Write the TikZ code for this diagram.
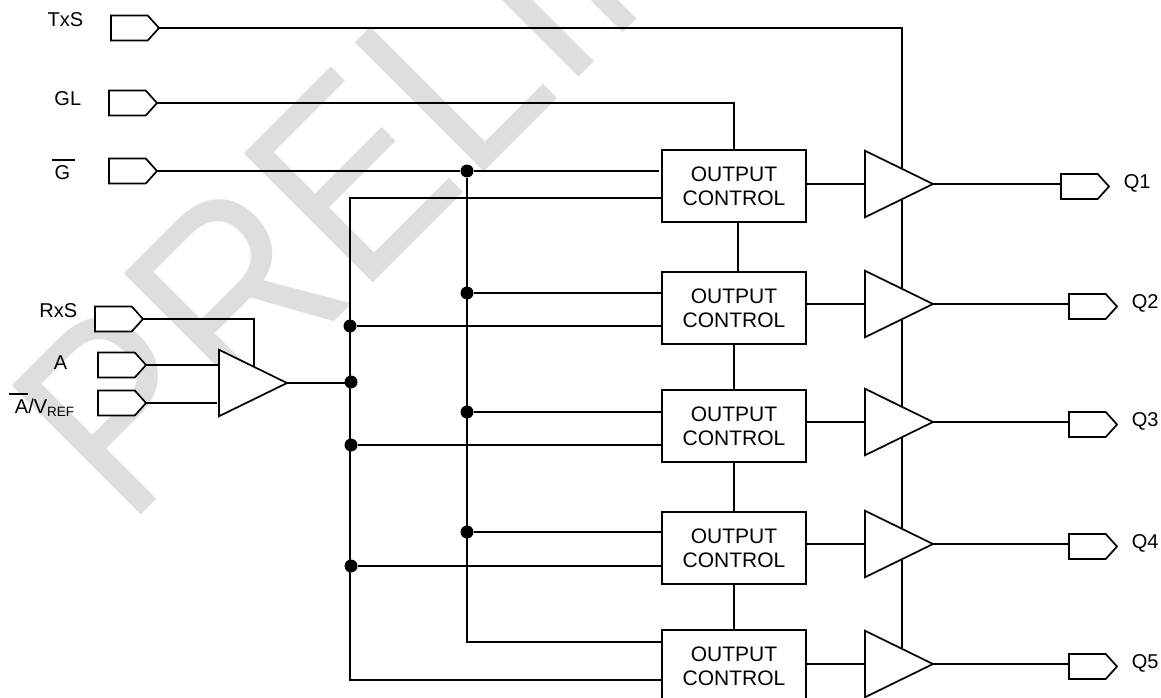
\documentclass[tikz,border=0pt]{standalone}
\usepackage{fontspec}
\setmainfont{Liberation Sans}
\usetikzlibrary{positioning, backgrounds, shapes.geometric, shapes.symbols}
\newcommand{\barred}[3]{\leavevmode\vbox{\hrule height 1.4pt \vskip 5pt \hbox{\kern#2pt #1\kern#3pt}}}
\tikzset{Box style/.style={draw=black, fill=white, align=center, minimum width=144pt, minimum height=72pt, inner sep=0pt, outer sep=0pt, font=\fontsize{21}{24}\selectfont}}
\tikzset{Amp style/.style={draw=black, fill=white, isosceles triangle, isosceles triangle stretches, minimum width=66.5pt, minimum height=68pt, inner sep=0pt, outer sep=0pt}}
\tikzset{Port style/.style={draw=black, fill=white, signal, signal to=east, signal pointer angle=96, minimum width=48pt, minimum height=25pt, inner sep=0pt, outer sep=0pt}}
\tikzset{Dot style/.style={circle, fill=black, minimum size=13pt, inner sep=0pt}}
\tikzset{Label style/.style={inner sep=0pt, font=\fontsize{20}{24}\selectfont}}
\tikzset{
	x=1pt, y=-1pt, % Pixel grid of the sheet
	node distance=50pt,
}
\begin{document}
\begin{tikzpicture}[line width=1.7pt]
	\useasboundingbox (0,0) rectangle (1161,698);

	\node[Port style, anchor=west] (port_txs) at (111,28) {};
	\node[Port style, anchor=west] (port_gl) at (109,103) {};
	\node[Port style, anchor=west] (port_g) at (109,171) {};
	\node[Port style, anchor=west] (port_rxs) at (95,319) {};
	\node[Port style, anchor=west] (port_a) at (98,365) {};
	\node[Port style, anchor=west] (port_ref) at (98,403) {};

	\node[Label style, left=27pt of port_txs, yshift=8pt] (lab_txs) {TxS};
	\node[Label style, left=27pt of port_gl, yshift=4pt] (lab_gl) {GL};
	\node[Label style, left=33pt of port_g, yshift=1.5pt] (lab_g) {\barred{G}{3}{5}};
	\node[Label style, left=17pt of port_rxs, yshift=8pt] (lab_rxs) {RxS};
	\node[Label style, left=30pt of port_a, yshift=2pt] (lab_a) {A};
	\node[Label style, left=23pt of port_ref, yshift=-2pt] (lab_ref) {\barred{A}{6}{0}/V\raisebox{-3pt}{\fontsize{13.5}{14}\selectfont REF}};

	\node[Amp style, anchor=west] (amp_in) at (219,383) {};

	\node[Box style] (ctl_one) at (734,186) {OUTPUT\\CONTROL};
	\node[Box style, below=50pt of ctl_one] (ctl_two) {OUTPUT\\CONTROL};
	\node[Box style, below=46pt of ctl_two] (ctl_three) {OUTPUT\\CONTROL};
	\node[Box style, below=50pt of ctl_three] (ctl_four) {OUTPUT\\CONTROL};
	\node[Box style, below=46pt of ctl_four] (ctl_five) {OUTPUT\\CONTROL};

	\node[Amp style, right=59pt of ctl_one, yshift=2pt] (amp_one) {};
	\node[Amp style, right=59pt of ctl_two, yshift=4pt] (amp_two) {};
	\node[Amp style, right=59pt of ctl_three, yshift=4pt] (amp_three) {};
	\node[Amp style, right=59pt of ctl_four, yshift=4pt] (amp_four) {};
	\node[Amp style, right=59pt of ctl_five, yshift=2pt] (amp_five) {};

	\node[Port style, right=128pt of amp_one, yshift=-2.5pt] (port_qa) {};
	\node[Port style, right=136pt of amp_two, yshift=-2.5pt] (port_qb) {};
	\node[Port style, right=136pt of amp_three, yshift=-2.5pt] (port_qc) {};
	\node[Port style, right=136pt of amp_four, yshift=-2.5pt] (port_qd) {};
	\node[Port style, right=136pt of amp_five, yshift=-2.5pt] (port_qe) {};

	\node[Label style, right=14pt of port_qa, yshift=3pt] (lab_qa) {Q1};
	\node[Label style, right=14pt of port_qb, yshift=3pt] (lab_qb) {Q2};
	\node[Label style, right=14pt of port_qc, yshift=3pt] (lab_qc) {Q3};
	\node[Label style, right=14pt of port_qd, yshift=3pt] (lab_qd) {Q4};
	\node[Label style, right=14pt of port_qe, yshift=3pt] (lab_qe) {Q5};

	\node[Dot style] (dot_g) at (467,171) {};
	\node[Dot style] (dot_gb) at (467,293) {};
	\node[Dot style] (dot_gc) at (467,412) {};
	\node[Dot style] (dot_gd) at (467,532) {};
	\node[Dot style] (dot_bb) at (350,326) {};
	\node[Dot style] (dot_out) at (351,382) {};
	\node[Dot style] (dot_bc) at (351,445) {};
	\node[Dot style] (dot_bd) at (351,566) {};

	\coordinate (en_top) at (902,28);
	\coordinate (rxs_turn) at (254,319);
	\coordinate (bus_top) at (350,198);
	\coordinate (bus_end) at (350,680);
	\coordinate (g_end) at (467,642);

	\begin{scope}[on background layer={line width=1.7pt}]
		\node[rotate=45, xscale=0.89, anchor=base west, inner sep=0pt, text=black!13, font=\fontsize{265}{265}\selectfont] (mark) at (127.4,528.6) {PRELIM};

		\draw (port_txs.east) -- (en_top) -- (en_top |- amp_five.east);
		\draw (port_gl.east) -| (ctl_one.north);
		\draw (port_g.east) -- (dot_g) -- ([xshift=-3pt]dot_g -| ctl_one.west);
		\draw (dot_g) -- (g_end) -- (g_end -| ctl_five.west);
		\draw (dot_gb) -- (dot_gb -| ctl_two.west);
		\draw (dot_gc) -- (dot_gc -| ctl_three.west);
		\draw (dot_gd) -- (dot_gd -| ctl_four.west);

		\draw (bus_top -| ctl_one.west) -- (bus_top) -- (bus_end) -- (bus_end -| ctl_five.west);
		\draw (dot_bb) -- (dot_bb -| ctl_two.west);
		\draw (dot_bc) -- (dot_bc -| ctl_three.west);
		\draw (dot_bd) -- (dot_bd -| ctl_four.west);

		\draw (port_rxs.east) -- (rxs_turn) -- (rxs_turn |- amp_in.center);
		\draw (port_a.east) -- (port_a.east -| amp_in.west);
		\draw ([xshift=-2pt]port_ref.east -| amp_in.west) -- (port_ref.east);
		\draw (amp_in.east) -- (amp_in.east -| dot_out);

		\draw ([xshift=4pt]ctl_one.south) -- ([xshift=4pt]ctl_two.north);
		\draw (ctl_two) -- (ctl_three);
		\draw (ctl_three) -- (ctl_four);
		\draw (ctl_four) -- (ctl_five);

		\draw (ctl_one.east |- amp_one.east) -- (amp_one.east) -- (amp_one.east -| port_qa.west);
		\draw (ctl_two.east |- amp_two.east) -- (amp_two.east) -- (amp_two.east -| port_qb.west);
		\draw (ctl_three.east |- amp_three.east) -- (amp_three.east) -- (amp_three.east -| port_qc.west);
		\draw (ctl_four.east |- amp_four.east) -- (amp_four.east) -- (amp_four.east -| port_qd.west);
		\draw (ctl_five.east |- amp_five.east) -- (amp_five.east) -- (amp_five.east -| port_qe.west);
	\end{scope}
\end{tikzpicture}
\end{document}
